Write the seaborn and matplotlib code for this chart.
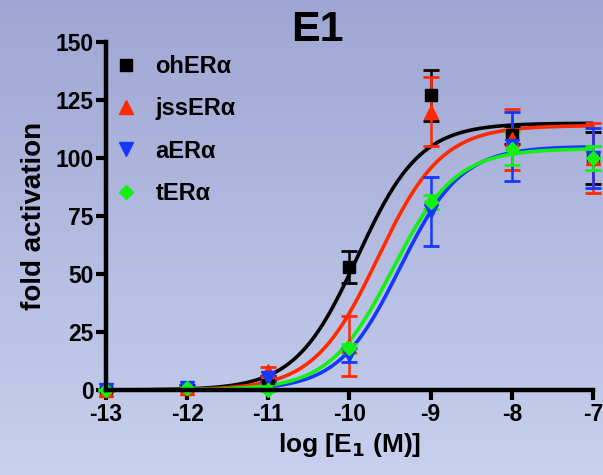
import matplotlib
matplotlib.use("Agg")
import matplotlib.pyplot as plt
import numpy as np
import pandas as pd
import seaborn as sns

LOG_DOSE = [-13, -12, -11, -10, -9, -8, -7]

OH_MEAN = [0, 1, 5, 53, 127, 110, 100]
OH_ERR = [0.5, 0.5, 1, 7, 11, 4, 11]
JSS_MEAN = [0, 1, 8, 19, 120, 108, 100]
JSS_ERR = [0.5, 1, 2, 13, 15, 13, 15]
A_MEAN = [0, 1, 5, 15, 77, 105, 100]
A_ERR = [0.5, 1, 1, 3, 15, 15, 13]
T_MEAN = [0, 1, 0, 18, 81, 104, 100]
T_ERR = [0.5, 0.5, 0.5, 2, 3, 7, 5]

# fitted sigmoid parameters: top, logEC50, hill slope
FITS = {
    "ohERα": (115, -9.90, 1.13),
    "jssERα": (114, -9.65, 1.10),
    "aERα": (105, -9.38, 1.15),
    "tERα": (104, -9.47, 1.12),
}

NAMES = ["ohERα", "jssERα", "aERα", "tERα"]
COLORS = ["#000000", "#ff2a00", "#1438ff", "#14f014"]
MARKERS = ["s", "^", "v", "D"]
MSIZES = [8.5, 9.5, 9.5, 7]


def sigmoid(x, top, logec50, hill):
    return top / (1 + 10 ** ((logec50 - x) * hill))


def main():
    sns.set_style("ticks")
    plt.rcParams["font.family"] = ["Liberation Sans", "DejaVu Sans"]
    plt.rcParams["font.weight"] = "bold"
    plt.rcParams["axes.unicode_minus"] = False
    for key in ("text.color", "axes.labelcolor", "xtick.color", "ytick.color"):
        plt.rcParams[key] = "black"

    fig = plt.figure(figsize=(6.03, 4.75), dpi=100)

    # gradient background
    bg = fig.add_axes([0, 0, 1, 1], zorder=-10)
    top_c = np.array([158, 166, 211]) / 255
    bot_c = np.array([200, 208, 238]) / 255
    t = np.linspace(0, 1, 256)[:, None, None]
    grad = top_c * (1 - t) + bot_c * t
    bg.imshow(grad, aspect="auto", extent=[0, 1, 0, 1])
    bg.axis("off")

    ax = fig.add_axes([0.1758, 0.1789, 0.8076, 0.7327])
    ax.patch.set_alpha(0)

    means = [OH_MEAN, JSS_MEAN, A_MEAN, T_MEAN]
    errs = [OH_ERR, JSS_ERR, A_ERR, T_ERR]

    xs = np.linspace(-13, -7, 300)
    curves = []
    for name in NAMES:
        top, ec, h = FITS[name]
        curves.append(pd.DataFrame({"x": xs, "y": sigmoid(xs, top, ec, h), "series": name}))
    curve_df = pd.concat(curves, ignore_index=True)
    sns.lineplot(data=curve_df, x="x", y="y", hue="series", palette=COLORS,
                 hue_order=NAMES, linewidth=2.6, legend=False, ax=ax, zorder=3)

    for name, m, e, c, mk, ms in zip(NAMES, means, errs, COLORS, MARKERS, MSIZES):
        ax.errorbar(LOG_DOSE, m, yerr=e, fmt="none", ecolor=c, elinewidth=1.8,
                    capsize=5.5, capthick=2.0, zorder=4, clip_on=False)
        ax.plot(LOG_DOSE, m, linestyle="none", marker=mk, color=c, markersize=ms,
                label=name, zorder=5, clip_on=False)

    ax.set_xlim(-13, -7)
    ax.set_ylim(0, 150)
    ax.set_xticks(LOG_DOSE)
    ax.set_yticks([0, 25, 50, 75, 100, 125, 150])
    ax.tick_params(labelsize=16.5, width=3, length=7, color="black", pad=2)
    for lab in ax.get_xticklabels() + ax.get_yticklabels():
        lab.set_fontweight("bold")
    sns.despine(ax=ax)
    for s in ("left", "bottom"):
        ax.spines[s].set_linewidth(3.2)
        ax.spines[s].set_color("black")
        ax.spines[s].set_zorder(6)

    ax.set_xlabel("log [E$_\\mathbf{1}$ (M)]", fontsize=19, fontweight="bold", labelpad=4)
    ax.set_ylabel("fold activation", fontsize=20, fontweight="bold", labelpad=6)
    fig.text(317 / 603, 1 - 30 / 475, "E1", fontsize=31, fontweight="bold",
             ha="center", va="center")

    leg = ax.legend(loc="upper left", frameon=False, fontsize=17, handletextpad=0.75,
                    labelspacing=0.82, borderaxespad=0.0, handlelength=1.0,
                    numpoints=1, bbox_to_anchor=(-0.003, 0.99))
    for txt in leg.get_texts():
        txt.set_fontweight("bold")

    fig.savefig("out.png", dpi=100)
    plt.close(fig)


if __name__ == "__main__":
    main()
